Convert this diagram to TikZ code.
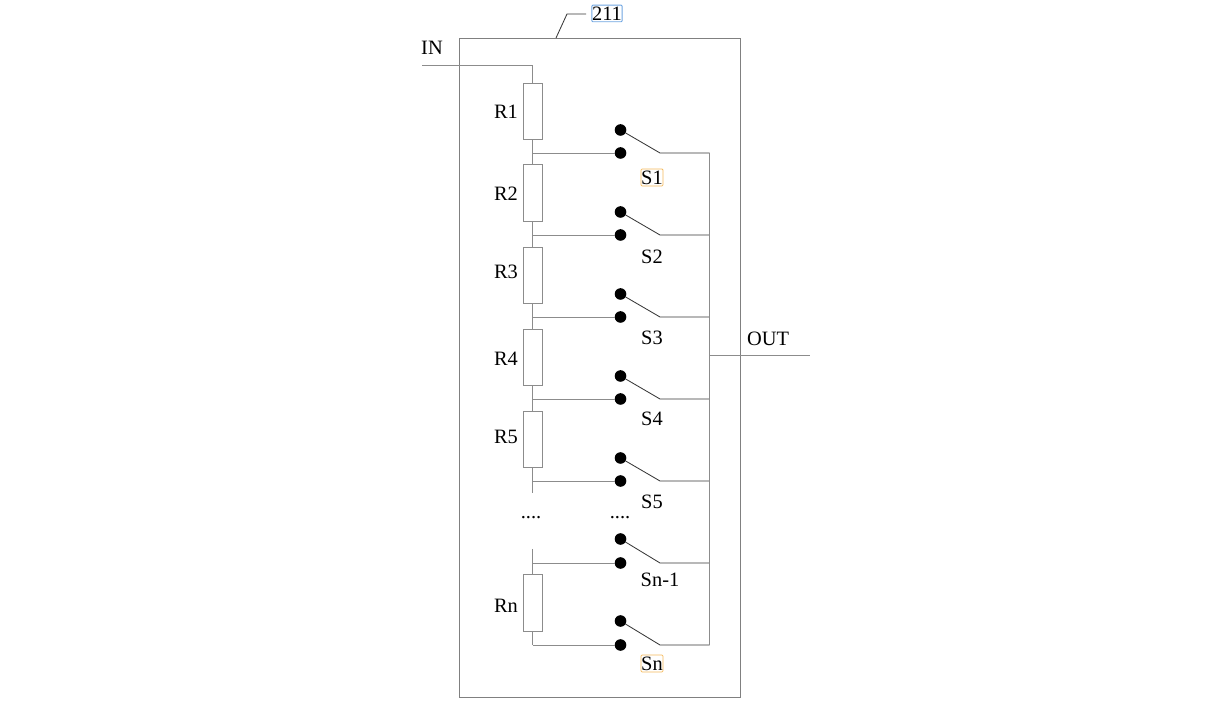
\documentclass[tikz,border=0pt]{standalone}
\usepackage{fontspec}
\setmainfont{Liberation Serif}
\definecolor{wire}{RGB}{140,140,140}
\definecolor{armc}{RGB}{55,55,55}
\definecolor{frameblue}{RGB}{110,165,225}
\definecolor{frameorange}{RGB}{245,185,90}
\tikzset{
  res/.style={draw=wire,fill=white,line width=0.42pt,minimum width=9.5pt,minimum height=28.2pt,inner sep=0pt,outer sep=0pt},
  contact/.style={circle,fill=black,minimum size=5.8pt,inner sep=0pt,outer sep=0pt},
  wireline/.style={draw=wire,line width=0.42pt},
  arm/.style={draw=armc,line width=0.42pt},
  lab/.style={inner sep=0pt,outer sep=0pt,font=\fontsize{10.2pt}{11pt}\selectfont,text=black},
  boxlab/.style={lab,draw,line width=0.4pt,rounded corners=0.5pt,inner xsep=0.1pt,inner ysep=0.8pt},
}
\begin{document}
\begin{tikzpicture}[x=0.5pt,y=-0.5pt]
\useasboundingbox (0,0) rectangle (1232,705);
\node[draw=black!50,line width=0.42pt,minimum width=140.5pt,minimum height=329.5pt,inner sep=0pt,outer sep=0pt] (frame) at (600.2,367.5) {};
% resistors
\foreach \n/\yy in {1/111.5,2/193,3/275.5,4/357.5,5/439.5,n/603}
  \node[res] (R\n) at (532.5,\yy) {};
% contacts, junctions, arm elbows
\foreach \n/\up/\lo in {1/130/153,2/212/235,3/294/317,4/376/399,5/458/481,m/539/563,n/621/645}{
  \node[contact] (U\n) at (620.5,\up) {};
  \node[contact] (L\n) at (620.5,\lo) {};
  \coordinate (E\n) at (660,\lo);
  \coordinate (B\n) at (709.5,\lo);
  \coordinate (J\n) at (532.5,\lo);
  \draw[wireline] (J\n) -- (L\n);
  \draw[arm] (U\n) -- (E\n) -- (B\n);
}
% resistor chain
\coordinate (inL) at (422,65);
\coordinate (inC) at (532.5,65);
\draw[wireline] (inL) -- (inC) -- (R1.north);
\draw[wireline] (R1.south) -- (R2.north);
\draw[wireline] (R2.south) -- (R3.north);
\draw[wireline] (R3.south) -- (R4.north);
\draw[wireline] (R4.south) -- (R5.north);
\coordinate (endA) at (532.5,493);
\coordinate (endB) at (532.5,549);
\draw[wireline] (R5.south) -- (endA);
\draw[wireline] (endB) -- (Rn.north);
\draw[wireline] (Rn.south) -- (Jn);
% bus and output
\draw[wireline] (B1) -- (Bn);
\coordinate (outA) at (709.5,355);
\coordinate (outB) at (810,355);
\draw[wireline] (outA) -- (outB);
% leader
\coordinate (leadA) at (556,38);
\coordinate (leadB) at (567,14);
\coordinate (leadC) at (586,14);
\draw[draw=armc,line width=0.42pt] (leadA) -- (leadB) -- (leadC);
% labels
\node[boxlab,draw=frameblue] (t211) at (607,13.5) {211};
\node[lab] (tIN) at (432,48) {IN};
\node[lab] (tOUT) at (768,339) {OUT};
\node[lab] (tR1) at (506,111.5) {R1};
\node[lab] (tR2) at (506,193.5) {R2};
\node[lab] (tR3) at (506,271.5) {R3};
\node[lab] (tR4) at (506,358.5) {R4};
\node[lab] (tR5) at (506,436.5) {R5};
\node[lab] (tRn) at (506,605.5) {Rn};
\node[boxlab,draw=frameorange] (tS1) at (652,177.5) {S1};
\node[lab] (tS2) at (652,257) {S2};
\node[lab] (tS3) at (652,338) {S3};
\node[lab] (tS4) at (652,419) {S4};
\node[lab] (tS5) at (652,502) {S5};
\node[lab] (tSm) at (660,580) {Sn-1};
\node[boxlab,draw=frameorange] (tSn) at (652,663.5) {Sn};
\node[lab] (dA) at (531,518) {....};
\node[lab] (dB) at (620,518) {....};
\end{tikzpicture}
\end{document}
